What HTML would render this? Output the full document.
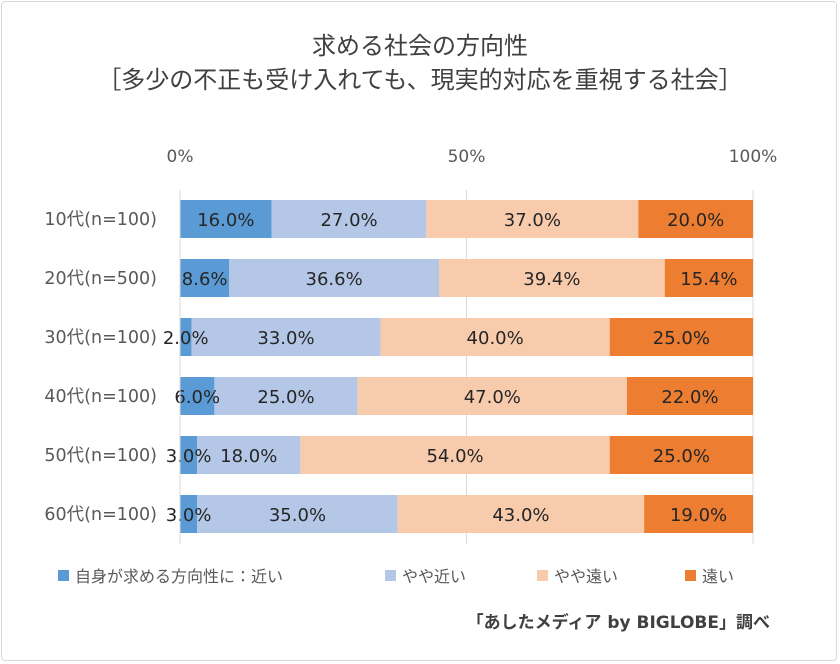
<!DOCTYPE html>
<html><head><meta charset="utf-8"><style>
body{margin:0;background:#fff;}
#wrap{position:relative;width:840px;height:664px;overflow:hidden;font-family:"DejaVu Sans","Noto Sans CJK JP",sans-serif;}
#frame{position:absolute;left:1px;top:1px;width:836px;height:660px;border:1px solid #d9d9d9;border-radius:4px;box-sizing:border-box;}
</style></head><body>
<div id="wrap">
<div id="frame"></div>
<svg id="chart" width="840" height="664" style="position:absolute;left:0;top:0">
<text x="420" y="54" text-anchor="middle" font-size="24" fill="#404040" font-family="Noto Sans CJK JP, sans-serif">求める社会の方向性</text>
<text x="420" y="88" text-anchor="middle" font-size="24" fill="#404040" font-family="Noto Sans CJK JP, sans-serif">［多少の不正も受け入れても、現実的対応を重視する社会］</text>
<text x="770" y="628" text-anchor="end" font-size="17" font-weight="bold" fill="#404040">「あしたメディア by BIGLOBE」調べ</text>
</svg>
</div>
<script>
const categories=["10代(n=100)","20代(n=500)","30代(n=100)","40代(n=100)","50代(n=100)","60代(n=100)"];
const seriesNames=["自身が求める方向性に：近い","やや近い","やや遠い","遠い"];
const near=[16.0,8.6,2.0,6.0,3.0,3.0];
const fairlyNear=[27.0,36.6,33.0,25.0,18.0,35.0];
const fairlyFar=[37.0,39.4,40.0,47.0,54.0,43.0];
const far=[20.0,15.4,25.0,22.0,25.0,19.0];
const tickValues=[0,50,100];
const tickLabels=["0%","50%","100%"];
const colors=["#5b9bd5","#b4c7e7","#f8cbad","#ed7d31"];
const svg=document.getElementById('chart');
const NS='http://www.w3.org/2000/svg';
const x0=180,x1=753,top0=190,rowH=59,barH=38;
const xs=v=>x0+(x1-x0)*v/100;
const yc=i=>top0+29+i*rowH;
function mk(t,a){const e=document.createElementNS(NS,t);for(const k in a)e.setAttribute(k,a[k]);svg.appendChild(e);return e;}
tickValues.forEach((v,i)=>{
 const g=mk('line',{x1:xs(v),x2:xs(v),y1:top0,y2:top0+6*rowH,stroke:'#d9d9d9','stroke-width':1});
 
 
 const t=mk('text',{x:xs(v),y:162,'text-anchor':'middle','font-size':17,fill:'#595959'});
 t.textContent=tickLabels[i];
 
 
});
const series=[near,fairlyNear,fairlyFar,far];
categories.forEach((c,i)=>{
 const l=mk('text',{x:157,y:yc(i)+6,'text-anchor':'end','font-size':17.5,fill:'#595959'});
 l.textContent=c;
 
 
});
categories.forEach((c,i)=>{
 let acc=0;
 series.forEach((s,j)=>{
  const v=s[i];
  const r=mk('rect',{x:xs(acc),y:yc(i)-barH/2,width:xs(acc+v)-xs(acc),height:barH,fill:colors[j]});
  
  
  acc+=v;
 });
});
categories.forEach((c,i)=>{
 let acc=0;
 series.forEach((s,j)=>{
  const v=s[i];
  const t=mk('text',{x:(xs(acc)+xs(acc+v))/2,y:yc(i)+7,'text-anchor':'middle','font-size':18,fill:'#262626'});
  t.textContent=v.toFixed(1)+'%';
  
  
  acc+=v;
 });
});
const ax=mk('line',{x1:x0,x2:x0,y1:top0,y2:top0+6*rowH,stroke:'#d9d9d9'});


const legX=[58,385,537,685];
seriesNames.forEach((n,j)=>{
 const r=mk('rect',{x:legX[j],y:570,width:11,height:11,fill:colors[j]});
 
 
 const t=mk('text',{x:legX[j]+17,y:582,'font-size':16,fill:'#595959'});
 t.textContent=n;
 
 
});
</script>
</body></html>
